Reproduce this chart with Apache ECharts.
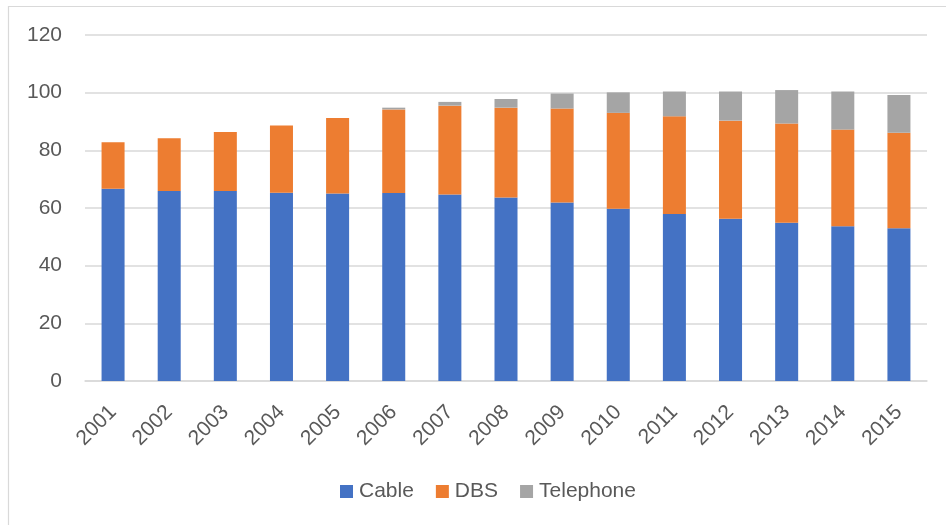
<!DOCTYPE html>
<html>
<head>
<meta charset="utf-8">
<script src="https://cdn.jsdelivr.net/npm/echarts@6/dist/echarts.min.js"></script>
<style>
html,body{margin:0;padding:0;background:#fff;}
#chart{width:946px;height:525px;}
</style>
</head>
<body>
<div id="chart"></div>
<script>
const years = ['2001','2002','2003','2004','2005','2006','2007','2008','2009','2010','2011','2012','2013','2014','2015'];
const cable = [66.7, 65.9, 65.9, 65.3, 65.0, 65.2, 64.7, 63.6, 61.9, 59.7, 57.9, 56.3, 54.9, 53.7, 53.0];
const dbs = [16.1, 18.3, 20.5, 23.3, 26.2, 29.0, 30.8, 31.2, 32.6, 33.3, 33.9, 34.0, 34.4, 33.5, 33.1];
const telephone = [0, 0, 0, 0, 0, 0.6, 1.3, 3.0, 5.2, 7.1, 8.6, 10.1, 11.6, 13.2, 13.1];
const yTicks = [0, 20, 40, 60, 80, 100, 120];

const FONT = 'Liberation Sans';
const TXT = '#595959';
const chart = echarts.init(document.getElementById('chart'), null, {renderer: 'canvas'});
chart.setOption({
  animation: false,
  backgroundColor: '#fff',
  textStyle: {fontFamily: FONT},
  graphic: [
    {type: 'line', shape: {x1: 8, y1: 6.5, x2: 946, y2: 6.5}, style: {stroke: '#d9d9d9', lineWidth: 1.2}},
    {type: 'line', shape: {x1: 8.5, y1: 6, x2: 8.5, y2: 525}, style: {stroke: '#d9d9d9', lineWidth: 1.2}}
  ],
  grid: {left: 85, right: 19, top: 35, bottom: 144, containLabel: false},
  legend: {
    data: ['Cable', 'DBS', 'Telephone'],
    bottom: 18,
    left: 335,
    itemWidth: 13,
    itemHeight: 13,
    itemGap: 22,
    icon: 'rect',
    textStyle: {fontFamily: FONT, fontSize: 21, color: TXT, padding: [0, 0, 0, 1]}
  },
  xAxis: {
    type: 'category',
    data: years,
    axisLine: {lineStyle: {color: '#d9d9d9', width: 1.5}},
    axisTick: {show: false},
    axisLabel: {rotate: 45, fontFamily: FONT, fontSize: 21, color: TXT, margin: 28, interval: 0}
  },
  yAxis: {
    type: 'value',
    min: yTicks[0],
    max: yTicks[yTicks.length - 1],
    interval: 20,
    axisLine: {show: false},
    axisTick: {show: false},
    splitLine: {lineStyle: {color: '#d9d9d9', width: 1.5}},
    axisLabel: {fontFamily: FONT, fontSize: 21, color: TXT, margin: 23}
  },
  series: [
    {name: 'Cable', type: 'bar', stack: 't', data: cable, barWidth: '41%', itemStyle: {color: '#4472C4'}},
    {name: 'DBS', type: 'bar', stack: 't', data: dbs, itemStyle: {color: '#ED7D31'}},
    {name: 'Telephone', type: 'bar', stack: 't', data: telephone, itemStyle: {color: '#A5A5A5'}}
  ]
});
</script>
</body>
</html>
